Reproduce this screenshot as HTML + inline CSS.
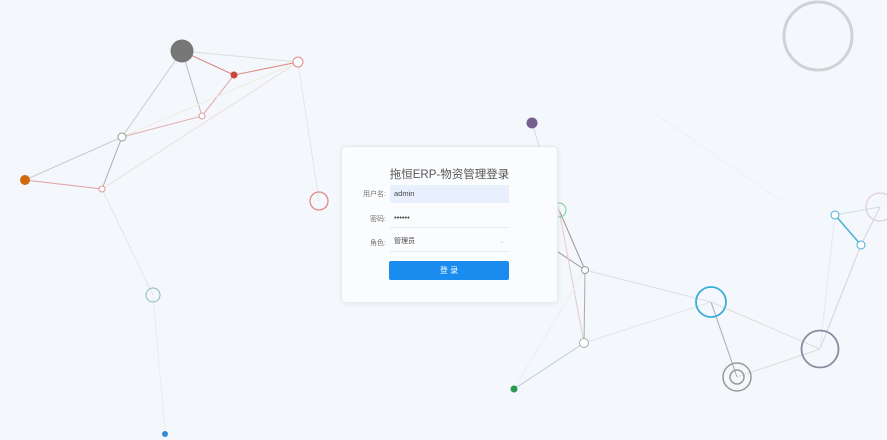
<!DOCTYPE html>
<html><head><meta charset="utf-8"><style>
body{margin:0;width:887px;height:440px;overflow:hidden;background:#f4f7fb;font-family:"Liberation Sans","Noto Sans CJK SC",sans-serif;position:relative}
svg{position:absolute;left:0;top:0}
.card{position:absolute;left:341px;top:146px;width:215px;height:155px;background:#fbfcfe;border:1px solid #e6e9ee;border-radius:4px;box-shadow:0 1px 6px rgba(0,0,0,.06)}
.t{position:absolute;left:0;width:100%;top:19px;text-align:center;font-size:11.5px;color:#555}
.l{position:absolute;right:171px;font-size:7px;color:#777}
.in{position:absolute;left:48px;width:119px;font-size:7.5px;color:#444}
</style></head><body>
<svg width="887" height="440">
<g stroke-width="1" fill="none">
<line x1="182" y1="51" x2="298" y2="62" stroke="#ddd"/>
<line x1="182" y1="51" x2="234" y2="75" stroke="#d88"/>
<line x1="234" y1="75" x2="298" y2="62" stroke="#d88"/>
<line x1="182" y1="51" x2="202" y2="116" stroke="#bbb"/>
<line x1="234" y1="75" x2="202" y2="116" stroke="#e0a0a0"/>
<line x1="182" y1="51" x2="122" y2="137" stroke="#ccc"/>
<line x1="122" y1="137" x2="202" y2="116" stroke="#e0b0b0"/>
<line x1="122" y1="137" x2="298" y2="62" stroke="#eed"/>
<line x1="102" y1="189" x2="298" y2="62" stroke="#eedede"/>
<line x1="25" y1="180" x2="122" y2="137" stroke="#ccc"/>
<line x1="25" y1="180" x2="102" y2="189" stroke="#e0a0a0"/>
<line x1="122" y1="137" x2="102" y2="189" stroke="#aaa"/>
<line x1="298" y1="62" x2="319" y2="201" stroke="#e6e6e6"/>
<line x1="102" y1="189" x2="153" y2="295" stroke="#e6e6e6"/>
<line x1="153" y1="295" x2="165" y2="432" stroke="#e8eef0"/>
<line x1="532" y1="123" x2="559" y2="210" stroke="#cde"/>
<line x1="559" y1="210" x2="585" y2="270" stroke="#999"/>
<line x1="540" y1="240" x2="585" y2="270" stroke="#999"/>
<line x1="585" y1="270" x2="584" y2="343" stroke="#aaa"/>
<line x1="559" y1="210" x2="584" y2="343" stroke="#e6caca"/>
<line x1="585" y1="270" x2="711" y2="302" stroke="#dde"/>
<line x1="584" y1="343" x2="711" y2="302" stroke="#dde8ee"/>
<line x1="584" y1="343" x2="514" y2="389" stroke="#bcd"/>
<line x1="585" y1="270" x2="514" y2="389" stroke="#eee"/>
<line x1="711" y1="302" x2="737" y2="377" stroke="#aaa"/>
<line x1="711" y1="302" x2="820" y2="349" stroke="#ddd"/>
<line x1="737" y1="377" x2="820" y2="349" stroke="#ddd"/>
<line x1="820" y1="349" x2="861" y2="245" stroke="#e0cfd8"/>
<line x1="820" y1="349" x2="835" y2="215" stroke="#e8e8ee"/>
<line x1="835" y1="215" x2="861" y2="245" stroke="#4ab0d8" stroke-width="1.5"/>
<line x1="835" y1="215" x2="880" y2="207" stroke="#cde"/>
<line x1="861" y1="245" x2="880" y2="207" stroke="#e0cfd8"/>
<line x1="650" y1="110" x2="780" y2="200" stroke="#edf0f3"/>
</g>
<circle cx="182" cy="51" r="11.5" fill="#777"/>
<circle cx="234" cy="75" r="3.5" fill="#c9483c"/>
<circle cx="298" cy="62" r="5" fill="#fff" stroke="#e08a8a"/>
<circle cx="202" cy="116" r="3" fill="#fff" stroke="#e09a9a"/>
<circle cx="122" cy="137" r="4" fill="#fff" stroke="#999"/>
<circle cx="25" cy="180" r="5" fill="#d06a10"/>
<circle cx="102" cy="189" r="3" fill="#fff" stroke="#e09a9a"/>
<circle cx="319" cy="201" r="9" fill="none" stroke="#e08a8a" stroke-width="1.3"/>
<circle cx="153" cy="295" r="7" fill="none" stroke="#8bb" stroke-width="1"/>
<circle cx="165" cy="434" r="3" fill="#3a8ad0"/>
<circle cx="532" cy="123" r="5.5" fill="#75608f"/>
<circle cx="559" cy="210" r="7" fill="none" stroke="#7c9"/>
<circle cx="585" cy="270" r="3.5" fill="#fff" stroke="#999"/>
<circle cx="584" cy="343" r="4.5" fill="#fff" stroke="#aaa"/>
<circle cx="514" cy="389" r="3.5" fill="#2a9a50"/>
<circle cx="711" cy="302" r="15" fill="none" stroke="#3aaed8" stroke-width="1.8"/>
<circle cx="737" cy="377" r="14" fill="none" stroke="#999" stroke-width="1.5"/>
<circle cx="737" cy="377" r="7" fill="none" stroke="#999" stroke-width="1.5"/>
<circle cx="820" cy="349" r="18.5" fill="none" stroke="#8c8aa0" stroke-width="1.8"/>
<circle cx="835" cy="215" r="4" fill="#fff" stroke="#4ab0d8"/>
<circle cx="861" cy="245" r="4" fill="#fff" stroke="#4ab0d8"/>
<circle cx="880" cy="207" r="14" fill="none" stroke="#e0cfd8" stroke-width="1.3"/>
<circle cx="818" cy="36" r="34" fill="none" stroke="#d0d2d6" stroke-width="3"/>
</svg>
<div class="card">
<div class="t">拖恒ERP-物资管理登录</div>
<div class="l" style="top:42px">用户名:</div>
<div class="in" style="top:38px;height:18px;background:#e8f0fe;line-height:18px;padding-left:4px;box-sizing:border-box">admin</div>
<div class="l" style="top:67px">密码:</div>
<div class="in" style="top:63px;height:18px;border-bottom:1px solid #e8e8e8;padding-left:4px;box-sizing:border-box;line-height:16px">••••••</div>
<div class="l" style="top:91px">角色:</div>
<div class="in" style="top:87px;height:18px;border-bottom:1px solid #e8e8e8;padding-left:4px;box-sizing:border-box;line-height:16px;font-size:7px">管理员<span style="float:right;color:#ccc;margin-right:4px">⌄</span></div>
<div style="position:absolute;left:47px;top:114px;width:120px;height:19px;background:#1a8cf0;border-radius:2px;color:#fff;font-size:8px;text-align:center;line-height:19px">登 录</div>
</div>
</body></html>
